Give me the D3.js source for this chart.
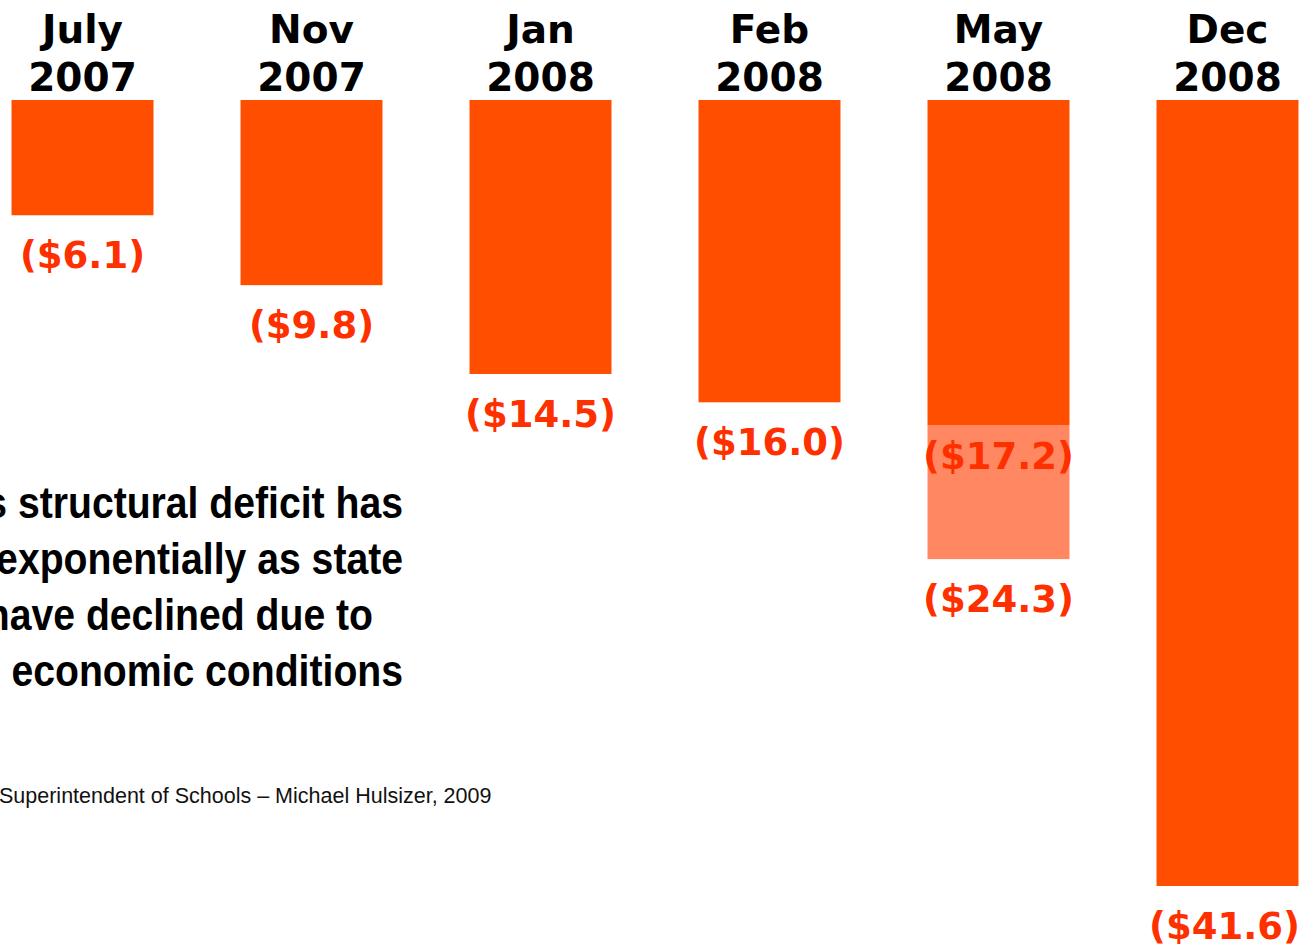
<!DOCTYPE html>
<html>
<head>
<meta charset="utf-8">
<script src="https://cdn.jsdelivr.net/npm/d3@7"></script>
<style>
  body { margin: 0; background: #fff; overflow: hidden; }
</style>
</head>
<body>
<script>
// months and years for the column headings
const months = ["July", "Nov", "Jan", "Feb", "May", "Dec"]
const years = ["2007", "2007", "2008", "2008", "2008", "2008"]
// deficit in $ billions, as labelled
const deficits = [6.1, 9.8, 14.5, 16.0, 17.2, 41.6]
// revised figure shown as a lighter extension (May 2008 only)
const revised = [null, null, null, null, 24.3, null]

const noteLines = ["s structural deficit has", "exponentially as state", "have declined due to", "economic conditions"]
const sourceText = "Superintendent of Schools \u2013 Michael Hulsizer, 2009"

const width = 1309, height = 946
const barTop = 100

const body = d3.select("body")
const svg = body.append("svg")
    .attr("width", width)
    .attr("height", height)

const data = months.map((m, i) => ({month: m, year: years[i], value: deficits[i], revised: revised[i]}))

const x = d3.scaleBand()
    .domain(months)
    .range([-32, 1342])
    .paddingInner(0.38)
    .paddingOuter(0.19)

const y = d3.scaleLinear()
    .domain([0, 41.6])
    .range([barTop, 886])

const fmt = v => "($" + d3.format(".1f")(v) + ")"

// lighter revised extension drawn first
svg.selectAll(".rev-bar")
    .data(data.filter(d => d.revised != null))
    .join("rect")
    .attr("class", "rev-bar")
    .attr("x", d => x(d.month))
    .attr("width", x.bandwidth())
    .attr("y", d => y(d.value))
    .attr("height", d => y(d.revised) - y(d.value))
    .style("fill", "#FF8862")

svg.selectAll(".bar")
    .data(data)
    .join("rect")
    .attr("class", "bar")
    .attr("x", d => x(d.month))
    .attr("width", x.bandwidth())
    .attr("y", y(0))
    .attr("height", d => y(d.value) - y(0))
    .style("fill", "#FF4E00")

// column headings
const heads = svg.selectAll(".head")
    .data(data)
    .join("text")
    .attr("class", "head")
    .attr("text-anchor", "middle")
    .style("font-family", "'DejaVu Sans', Verdana, sans-serif")
    .style("font-weight", "bold")
    .style("font-size", "39px")
    .style("fill", "#000")
heads.append("tspan")
    .attr("x", d => x(d.month) + x.bandwidth() / 2)
    .attr("y", 43)
    .text(d => d.month)
heads.append("tspan")
    .attr("x", d => x(d.month) + x.bandwidth() / 2)
    .attr("y", 91)
    .text(d => d.year)

const labelStyle = sel => sel
    .attr("text-anchor", "middle")
    .style("font-family", "'DejaVu Sans', Verdana, sans-serif")
    .style("font-weight", "bold")
    .style("font-size", "37px")
    .style("fill", "#FF3000")

// value labels under each bar (inside the extension when there is one)
svg.selectAll(".val")
    .data(data)
    .join("text")
    .attr("class", "val")
    .call(labelStyle)
    .attr("x", d => x(d.month) + x.bandwidth() / 2 - (d.month == "Dec" ? 3 : 0))
    .attr("y", d => y(d.value) + (d.revised != null ? 44 : 53))
    .text(d => fmt(d.value))

svg.selectAll(".rev-val")
    .data(data.filter(d => d.revised != null))
    .join("text")
    .attr("class", "rev-val")
    .call(labelStyle)
    .attr("x", d => x(d.month) + x.bandwidth() / 2)
    .attr("y", d => y(d.revised) + 53)
    .text(d => fmt(d.revised))

// note on the left, cut off at the page edge; squeezed to look condensed
svg.selectAll(".note")
    .data(noteLines)
    .join("text")
    .attr("class", "note")
    .attr("text-anchor", "end")
    .attr("x", (d, i) => i == 2 ? 373 : 403)
    .attr("y", (d, i) => 518 + i * 56)
    .style("font-family", "'Liberation Sans', Arial, sans-serif")
    .style("font-weight", "bold")
    .style("font-size", "45px")
    .style("fill", "#000")
    .text(d => d)
    .each(function() {
        const len = this.getComputedTextLength()
        d3.select(this)
            .attr("textLength", len * 0.87)
            .attr("lengthAdjust", "spacingAndGlyphs")
    })

svg.append("text")
    .attr("x", -1)
    .attr("y", 803)
    .style("font-family", "'Liberation Sans', Arial, sans-serif")
    .style("font-size", "21.5px")
    .style("fill", "#111")
    .text(sourceText)
</script>
</body>
</html>
